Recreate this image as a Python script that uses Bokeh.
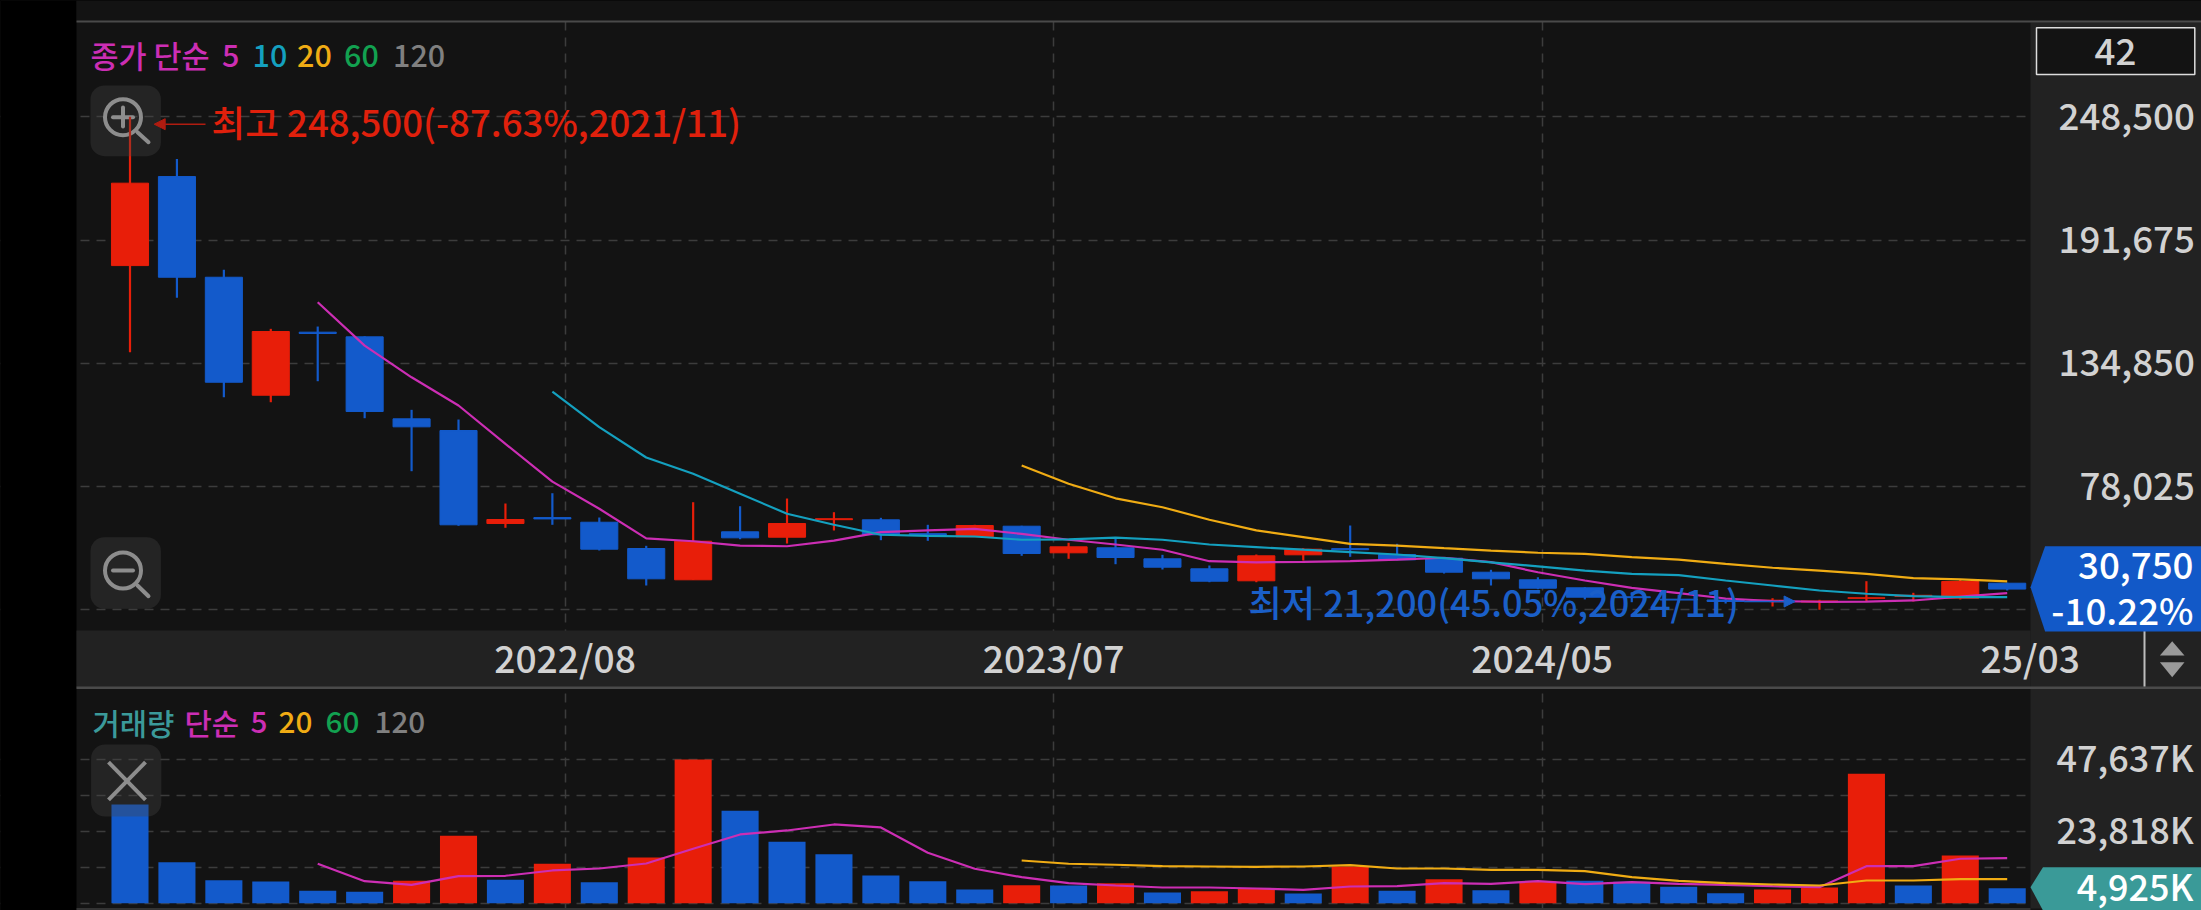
from bokeh.plotting import figure
from bokeh.embed import file_html
from bokeh.resources import INLINE
from bokeh.models import (ColumnDataSource, Range1d, FixedTicker, Label, BoxAnnotation, LinearAxis,
                          Arrow, NormalHead, GlobalInlineStyleSheet, Grid)

# ---------- data ----------
opens  = [179900,220950,174530,120130,149200,147050,109250,103860,60990,63700,61580,49460,35030,57160,54670,62750,62690,56300,54850,59740,47480,49780,44710,40100,34570,46555,49400,46690,44990,38530,35030,31340,27200,26100,25720,25165,24800,26500,27400,26550,33460]
highs  = [248500,229100,177940,150740,151800,147300,113400,108930,70200,74950,63750,50700,70800,68960,72510,66200,63610,60390,60400,59950,52090,54670,46555,41620,46690,49600,60060,51630,45450,39640,36200,31600,29300,28000,26410,26550,25810,34390,29040,35030,33700]
lows   = [139950,165030,119210,116900,126590,109530,85100,59930,59000,60390,48540,32400,35000,53750,51760,57760,53290,53010,54800,46090,44710,42220,39780,33920,33920,43930,45630,44000,37930,32400,30700,26000,24700,24500,24100,22720,21200,25030,25030,25950,30100]
closes = [217900,174530,126120,149500,148600,112620,105560,60390,62830,63100,49140,35490,52820,54390,60990,63200,55775,55500,60060,47150,50240,45310,40840,34380,46090,49140,48900,44250,38530,35490,31160,27010,26800,25700,25020,25630,25260,26730,27900,34250,30750]
ma5_start = 4
ma5 = [163000,143000,128400,115400,97700,80300,67800,54100,52800,50800,50500,53100,57000,57800,58500,56200,53500,51300,48900,43600,43100,43300,43600,44300,45200,43200,38500,34700,31300,28900,26400,25200,24900,25000,25500,27300,28900]
ma10_start = 9
ma10 = [121800,105400,91400,83900,74700,65500,60400,55800,55300,55000,53500,53700,54500,53500,51300,50100,48900,47800,46700,45000,43100,41200,39300,37800,37200,34700,32400,30100,28600,27500,27000,27000]
ma20_start = 19
ma20 = [87700,79300,72600,68500,62700,57800,54700,51600,50800,49600,48500,47500,47000,45500,44300,42400,40600,39300,37800,35800,35200,34300]
volumes = [32740,13600,7630,7200,4110,3780,7430,22360,7760,13070,6970,15160,47637,30650,20370,16250,9190,7300,4540,5970,5870,6630,3550,3980,4780,3220,12170,4110,7960,4310,7200,7430,7100,5440,3320,4540,5210,42920,5870,15820,4925]
vol_up = "BBBBBBRRBRBRRBBBBBBRBRBRRBRBRBRBBBBRRRBRB"[:41]
vol_ma5_start = 4
vol_ma5 = [13070,7300,6100,8960,9090,10850,11510,13170,18040,22790,24110,26100,25110,16720,11410,8620,6630,5870,5210,5210,4880,4440,5540,5640,6630,6430,7300,6300,6970,6430,6100,5640,5310,12270,12270,14730,14930]
vol_ma20_start = 19
vol_ma20 = [14160,13070,12740,12270,12170,12070,12170,12600,11510,11510,11080,11080,10610,8620,7430,6630,6200,5870,7530,7530,7960,7960]
price_ticks = [21200,78025,134850,191675,248500]
vol_ticks = [0,11909,23818,35727,47637]
x_ticks = {9.27:"2022/08",19.68:"2023/07",30.09:"2024/05",40.49:"25/03"}

# ---------- style ----------
FONT = '"Noto Sans CJK KR Medium","Noto Sans CJK KR"'
RED, BLUE = "#e81e09", "#135acb"
MAG, CYA, YEL, GRN, GRY = "#cc2eb4", "#14a0bf", "#f0ac14", "#12a150", "#808080"
BG, PANEL, GRID = "#131313", "#222222", "#3c3c3c"
TXT = "#d2d2d2"
ICON = "#b4b4b4"

# page pixel -> data coordinate, for the chart's surrounding furniture
def X(px): return (px - 129.5) / 46.93
def PY(py): return 21200 + (609.3 - py) * 461.06
def VY(py): return (902.7 - py) * 331.5

n = len(closes)
idx = list(range(n))

p = figure(width=2201, height=910, output_backend="svg", toolbar_location=None,
           x_range=Range1d(X(0), X(2201)), y_range=Range1d(PY(910), PY(0)),
           x_axis_location=None, y_axis_location=None,
           min_border=0, min_border_left=0, min_border_right=0, min_border_top=0, min_border_bottom=0,
           background_fill_color=BG, border_fill_color="#000000", outline_line_color=None)
p.grid.visible = False
# the two label ranges sit 3px above the grid's ranges so that tick texts centre on their lines
p.extra_y_ranges = {"vol": Range1d(VY(910), VY(0)),
                    "price_labels": Range1d(PY(913), PY(3)),
                    "vol_labels": Range1d(VY(913), VY(3))}

def dashed(**kw):
    g = Grid(**kw)
    g.grid_line_color = GRID
    g.grid_line_dash = "9 7"
    g.grid_line_width = 1.5
    p.add_layout(g)

dashed(dimension=0, ticker=FixedTicker(ticks=list(x_ticks)[:3]))
dashed(dimension=1, ticker=FixedTicker(ticks=price_ticks))
dashed(dimension=1, ticker=FixedTicker(ticks=vol_ticks), y_range_name="vol")

def box(x0, x1, y0, y1, color, **kw):
    p.quad(left=[X(x0)], right=[X(x1)], top=[PY(y0)], bottom=[PY(y1)], fill_color=color,
           line_color=None, **kw)

def tri(xs, ys, color):
    p.patch([X(v) for v in xs], [PY(v) for v in ys], fill_color=color, line_color=None)

def txt(x, y, text, color, size, align="left", style="normal"):
    p.add_layout(Label(x=X(x), y=PY(y), text=text, text_color=color, text_font=FONT,
                       text_font_size=size, text_align=align, text_baseline="middle",
                       text_font_style=style))

def button(x0, x1, y0, y1, level):
    p.add_layout(BoxAnnotation(left=X(x0), right=X(x1), top=PY(y0), bottom=PY(y1),
                               fill_color="#444444", fill_alpha=0.35, line_color=None,
                               border_radius=14, level=level))

# ---------- furniture around the two panels ----------
box(0, 76, 0, 910, "#000000")
box(76, 2201, 0, 20, BG)
box(2030, 2201, 22, 908, PANEL)
box(76, 2030, 630, 687, PANEL)
box(76, 2201, 20, 22, "#4a4a4a")
box(76, 2201, 686, 688.5, "#4a4a4a")
box(76, 2030, 907.5, 910, "#333333")
box(2143, 2145, 630, 686, "#bdbdbd")
tri([2171.7, 2184, 2159.4], [640.7, 655, 655], "#9a9a9a")
tri([2159.4, 2184, 2171.7], [661.7, 661.7, 676.7], "#9a9a9a")
box(2036, 2194.3, 27.3, 74, BG)
p.quad(left=[X(2036)], right=[X(2194.3)], top=[PY(27.3)], bottom=[PY(74)], fill_color=None,
       line_color="#dddddd", line_width=1.5)
tri([2030, 2044.6, 2201, 2201, 2044.6], [586.7, 545.7, 545.7, 631, 631], "#1259c8")
tri([2030, 2042.5, 2201, 2201, 2042.5], [886.7, 866.7, 866.7, 910, 910], "#3a9a98")

# ---------- axes ----------
def style_axis(a, size):
    a.axis_line_color = None
    a.major_tick_line_color = None
    a.minor_tick_line_color = None
    a.major_tick_out = 0
    a.major_tick_in = 0
    a.minor_tick_out = 0
    a.minor_tick_in = 0
    a.major_label_text_color = TXT
    a.major_label_text_font = FONT
    a.major_label_text_font_size = size

ay = LinearAxis(fixed_location=X(2030), y_range_name="price_labels", ticker=FixedTicker(ticks=price_ticks), major_label_standoff=28,
                major_label_overrides={21200:"", 78025:"\u200778,025", 134850:"134,850", 191675:"191,675", 248500:"248,500"})
style_axis(ay, "36.7px")
p.add_layout(ay, "right")
av = LinearAxis(fixed_location=X(2030), y_range_name="vol_labels", ticker=FixedTicker(ticks=vol_ticks), major_label_standoff=26,
                major_label_overrides={0:"", 11909:"", 23818:"23,818K", 35727:"", 47637:"47,637K"})
style_axis(av, "36px")
p.add_layout(av, "right")
ax = LinearAxis(fixed_location=PY(630), ticker=FixedTicker(ticks=list(x_ticks)), major_label_standoff=-1,
                major_label_overrides=x_ticks)
style_axis(ax, "37.2px")
p.add_layout(ax, "below")

# ---------- price panel ----------
button(90, 160.4, 85, 155.7, "glyph")
button(90, 160.4, 536.7, 608.3, "glyph")
p.scatter([X(122.5), X(122.5)], [PY(116.7), PY(570)], size=36, marker="circle",
          fill_color=None, line_color=ICON, line_width=4)
p.segment(x0=[X(137), X(137), X(112.5), X(122.5), X(112.5)],
          y0=[PY(131.7), PY(585), PY(116.7), PY(107), PY(570)],
          x1=[X(148), X(148), X(132.5), X(122.5), X(132.5)],
          y1=[PY(141.7), PY(595.7), PY(116.7), PY(126), PY(570)],
          line_color=ICON, line_width=4, line_cap="round")

colors = [RED if c > o else BLUE for o, c in zip(opens, closes)]
src = ColumnDataSource(dict(x=idx, o=opens, h=highs, l=lows, c=closes, col=colors,
                            top=[max(a, b) for a, b in zip(opens, closes)],
                            bot=[min(a, b) for a, b in zip(opens, closes)]))
p.segment("x", "l", "x", "h", source=src, line_color="col", line_width=2.2)
p.vbar(x="x", top="top", bottom="bot", width=0.79, source=src, fill_color="col", line_color="col", line_width=1)

def ma(start, vals, color, **kw):
    p.line(list(range(start, start + len(vals))), vals, line_color=color, line_width=2.2, **kw)

ma(ma5_start, ma5, MAG)
ma(ma10_start, ma10, CYA)
ma(ma20_start, ma20, YEL)

for x, s, c in [(90, "종가 단순", MAG), (221.6, "5", MAG), (252, "10", CYA), (296.6, "20", YEL),
                (343.5, "60", GRN), (392.6, "120", GRY)]:
    txt(x, 54.5, s, c, "30.5px")

txt(2115, 51, "42", TXT, "36.7px", "center")

txt(211, 120.5, "최고 248,500(-87.63%,2021/11)", "#e0200c", "36.6px")
p.add_layout(Arrow(end=NormalHead(size=11, fill_color="#b01c10", line_color="#b01c10"),
                   x_start=X(205), y_start=PY(123.7), x_end=X(153.7), y_end=PY(123.7),
                   line_color="#b01c10", line_width=1.5))
txt(1248, 600, "최저 21,200(45.05%,2024/11)", "#1a5fc8", "36.2px")
p.add_layout(Arrow(end=NormalHead(size=11, fill_color="#1a5fc8", line_color="#1a5fc8"),
                   x_start=X(1743.6), y_start=PY(601), x_end=X(1794.6), y_end=PY(601),
                   line_color="#1a5fc8", line_width=1.5))

txt(2193, 565, "30,750", "#ffffff", "36.7px", "right")
txt(2193, 608, "-10.22%", "#ffffff", "36.7px", "right")

# ---------- volume panel ----------
vsrc = ColumnDataSource(dict(x=idx, v=volumes, col=[RED if f == "R" else BLUE for f in vol_up]))
p.vbar(x="x", top="v", bottom=0, width=0.79, source=vsrc, fill_color="col", line_color=None, y_range_name="vol")
ma(vol_ma5_start, vol_ma5, MAG, y_range_name="vol")
ma(vol_ma20_start, vol_ma20, YEL, y_range_name="vol")

button(90.6, 160.8, 744, 816, "overlay")
p.segment(x0=[X(108), X(145)], y0=[PY(761.7), PY(761.7)], x1=[X(145), X(108)], y1=[PY(799.3), PY(799.3)],
          line_color=ICON, line_width=4, level="overlay")

for x, s, c in [(92, "거래량", "#3b9a9a"), (184, "단순", MAG), (250, "5", MAG), (278, "20", YEL),
                (325, "60", GRN), (374, "120", GRY)]:
    txt(x, 721.5, s, c, "29.7px")

txt(2193, 884, "4,925K", "#ffffff", "36px", "right")

p.stylesheets = [GlobalInlineStyleSheet(css="html,body{margin:0;padding:0;background:#000;overflow:hidden}")]

open("out.html", "w").write(file_html(p, INLINE))
